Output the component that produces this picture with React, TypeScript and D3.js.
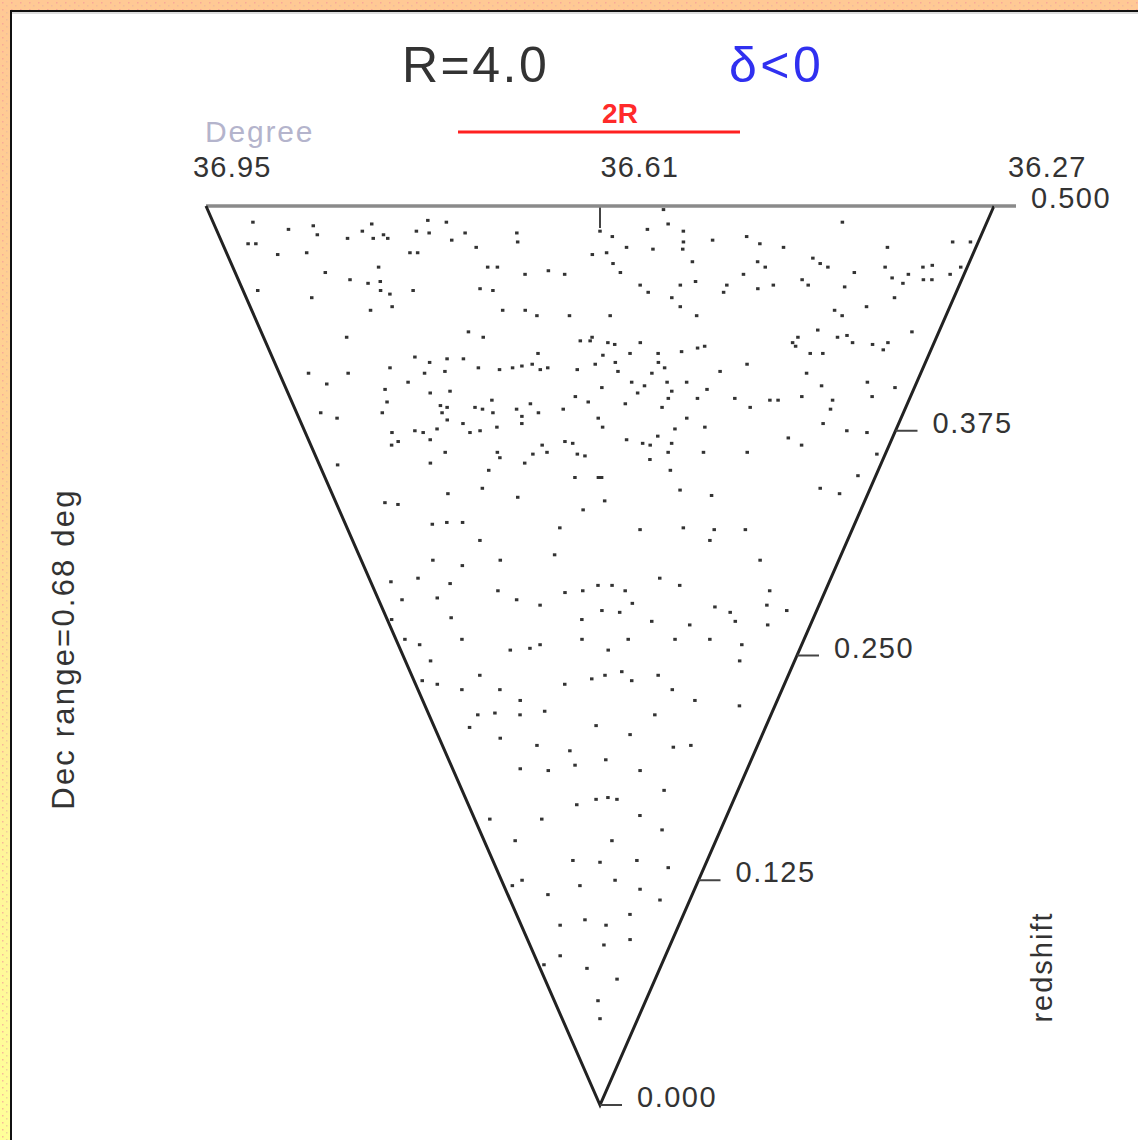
import React from "react";
import * as d3 from "d3";

// Survey slice limits
const raTicks = [36.95, 36.61, 36.27];
const redshiftTicks = [0, 0.125, 0.25, 0.375, 0.5];
const raMin = 36.27;
const raMax = 36.95;
const zMax = 0.5;

// Galaxies as [RA (deg), redshift], far side of the slice, east half
const galaxiesFarEast: [number, number][] = [
  [36.915,0.491],[36.886,0.487],[36.863,0.489],[36.862,0.484],[36.927,0.479],[36.920,0.479],[36.904,0.473],[36.877,0.474],
  [36.836,0.482],[36.821,0.486],[36.813,0.482],[36.811,0.490],[36.803,0.484],[36.800,0.482],[36.773,0.486],[36.762,0.485],
  [36.761,0.492],[36.745,0.491],[36.743,0.481],[36.730,0.485],[36.783,0.474],[36.776,0.474],[36.722,0.477],[36.684,0.485],
  [36.684,0.480],[36.714,0.466],[36.705,0.466],[36.658,0.464],[36.680,0.462],[36.643,0.462],[36.617,0.473],[36.866,0.463],
  [36.845,0.459],[36.815,0.466],[36.829,0.457],[36.817,0.458],[36.819,0.453],[36.811,0.451],[36.788,0.453],[36.724,0.454],
  [36.712,0.453],[36.936,0.453],[36.887,0.449],[36.834,0.442],[36.812,0.444],[36.705,0.442],[36.683,0.442],[36.672,0.439],
  [36.640,0.439],[36.866,0.427],[36.742,0.430],[36.728,0.427],[36.630,0.425],[36.620,0.425],[36.674,0.418],[36.802,0.416],
  [36.788,0.413],[36.769,0.415],[36.774,0.408],[36.752,0.415],[36.831,0.410],[36.796,0.407],[36.816,0.402],[36.738,0.410],
  [36.716,0.409],[36.702,0.410],[36.692,0.411],[36.681,0.412],[36.673,0.409],[36.665,0.410],[36.634,0.409],[36.615,0.412],
  [36.919,0.407],[36.877,0.407],[36.904,0.401],[36.843,0.398],[36.795,0.396],[36.773,0.397],[36.845,0.391],[36.854,0.385],
  [36.787,0.389],[36.780,0.388],[36.787,0.385],[36.783,0.381],[36.749,0.388],[36.741,0.387],[36.729,0.392],[36.730,0.385],
  [36.703,0.387],[36.698,0.383],[36.699,0.379],[36.687,0.390],[36.679,0.385],[36.651,0.387],[36.637,0.394],[36.623,0.391],
  [36.923,0.385],[36.907,0.382],[36.850,0.374],[36.855,0.367],[36.846,0.369],[36.823,0.375],[36.814,0.374],[36.808,0.370],
  [36.797,0.376],[36.766,0.379],[36.760,0.374],[36.748,0.375],[36.728,0.377],[36.794,0.363],[36.815,0.357],[36.732,0.363],
  [36.730,0.360],[36.690,0.362],[36.678,0.367],[36.673,0.363],[36.651,0.369],[36.642,0.368],[36.637,0.362],[36.628,0.361],
  [36.701,0.357],[36.928,0.356],[36.746,0.353],[36.641,0.349],[36.758,0.343],[36.803,0.340],[36.612,0.349],
];

// Far side of the slice, west half
const galaxiesFarWest: [number, number][] = [
  [36.610,0.486],[36.599,0.483],[36.555,0.498],[36.568,0.487],[36.550,0.490],[36.536,0.486],[36.535,0.480],[36.535,0.476],
  [36.509,0.481],[36.479,0.483],[36.466,0.479],[36.444,0.477],[36.397,0.491],[36.293,0.480],[36.277,0.480],[36.350,0.477],
  [36.604,0.474],[36.586,0.477],[36.562,0.476],[36.598,0.468],[36.591,0.463],[36.525,0.469],[36.465,0.469],[36.457,0.466],
  [36.415,0.471],[36.407,0.468],[36.399,0.466],[36.373,0.463],[36.346,0.466],[36.336,0.460],[36.324,0.457],[36.322,0.462],
  [36.311,0.466],[36.303,0.467],[36.306,0.459],[36.298,0.459],[36.283,0.462],[36.276,0.466],[36.572,0.456],[36.564,0.452],
  [36.534,0.456],[36.520,0.458],[36.490,0.456],[36.492,0.452],[36.476,0.462],[36.460,0.454],[36.446,0.456],[36.420,0.459],
  [36.413,0.456],[36.378,0.455],[36.327,0.449],[36.541,0.449],[36.532,0.444],[36.515,0.439],[36.600,0.439],[36.381,0.442],
  [36.372,0.439],[36.351,0.444],[36.297,0.430],[36.392,0.431],[36.370,0.427],[36.361,0.428],[36.353,0.424],[36.332,0.423],
  [36.319,0.420],[36.317,0.424],[36.414,0.424],[36.410,0.427],[36.410,0.422],[36.393,0.418],[36.380,0.418],[36.618,0.427],
  [36.602,0.424],[36.595,0.423],[36.569,0.424],[36.607,0.417],[36.579,0.418],[36.550,0.418],[36.526,0.419],[36.510,0.421],
  [36.503,0.422],[36.594,0.413],[36.549,0.413],[36.542,0.410],[36.591,0.408],[36.555,0.407],[36.483,0.408],[36.456,0.412],
  [36.391,0.407],[36.576,0.402],[36.608,0.399],[36.562,0.400],[36.538,0.402],[36.517,0.402],[36.569,0.396],[36.532,0.397],
  [36.494,0.398],[36.582,0.390],[36.535,0.393],[36.541,0.388],[36.503,0.393],[36.462,0.393],[36.443,0.388],[36.423,0.392],
  [36.414,0.392],[36.389,0.394],[36.371,0.400],[36.354,0.392],[36.353,0.387],[36.323,0.402],[36.312,0.394],[36.291,0.399],
  [36.612,0.382],[36.607,0.377],[36.524,0.376],[36.512,0.382],[36.490,0.377],[36.579,0.370],[36.560,0.368],[36.551,0.367],
  [36.543,0.372],[36.526,0.368],[36.356,0.379],[36.326,0.375],[36.302,0.374],[36.391,0.371],[36.373,0.367],[36.550,0.359],
  [36.529,0.363],[36.487,0.363],[36.435,0.363],[36.524,0.353],[36.280,0.362],[36.608,0.349],[36.509,0.342],[36.468,0.339],
  [36.333,0.343],[36.306,0.340],[36.292,0.350],
];

// Nearer galaxies, z below about 0.34
const galaxiesNear: [number, number][] = [
  [36.887,0.335],[36.871,0.334],[36.834,0.323],[36.814,0.324],[36.793,0.324],[36.715,0.338],[36.664,0.321],[36.632,0.331],
  [36.604,0.336],[36.498,0.321],[36.456,0.320],[36.414,0.320],[36.848,0.303],[36.808,0.300],[36.920,0.291],[36.878,0.293],
  [36.833,0.290],[36.764,0.286],[36.738,0.281],[36.703,0.278],[36.663,0.285],[36.636,0.286],[36.613,0.289],[36.592,0.289],
  [36.572,0.286],[36.560,0.279],[36.607,0.275],[36.579,0.274],[36.522,0.293],[36.491,0.289],[36.431,0.277],[36.405,0.274],
  [36.351,0.278],[36.317,0.275],[36.914,0.281],[36.859,0.282],[36.847,0.271],[36.943,0.270],[36.935,0.259],[36.914,0.256],
  [36.906,0.247],[36.840,0.259],[36.763,0.253],[36.729,0.254],[36.711,0.256],[36.639,0.270],[36.640,0.259],[36.596,0.253],
  [36.563,0.259],[36.527,0.269],[36.485,0.259],[36.465,0.267],[36.427,0.259],[36.366,0.247],[36.393,0.269],[36.371,0.256],
  [36.339,0.267],[36.935,0.236],[36.910,0.234],[36.868,0.231],[36.827,0.239],[36.797,0.231],[36.763,0.225],[36.719,0.219],
  [36.675,0.234],[36.625,0.237],[36.601,0.239],[36.571,0.241],[36.552,0.236],[36.505,0.239],[36.475,0.231],[36.428,0.225],
  [36.339,0.222],[36.501,0.217],[36.853,0.217],[36.818,0.218],[36.769,0.217],[36.878,0.210],[36.821,0.204],[36.746,0.200],
  [36.676,0.197],[36.618,0.211],[36.547,0.206],[36.451,0.199],[36.414,0.200],[36.794,0.187],[36.730,0.186],[36.667,0.189],
  [36.597,0.192],[36.517,0.186],[36.452,0.175],[36.620,0.170],[36.590,0.171],[36.567,0.170],[36.670,0.167],[36.768,0.159],
  [36.909,0.159],[36.859,0.147],[36.503,0.161],[36.435,0.153],[36.575,0.147],[36.696,0.136],[36.610,0.135],[36.493,0.136],
  [36.920,0.122],[36.879,0.125],[36.802,0.117],[36.681,0.122],[36.558,0.125],[36.466,0.120],[36.383,0.114],[36.387,0.132],
  [36.673,0.103],[36.584,0.100],[36.488,0.106],[36.782,0.100],[36.469,0.092],[36.591,0.089],[36.817,0.083],[36.920,0.078],
  [36.684,0.076],[36.505,0.070],[36.625,0.058],[36.610,0.048],[36.556,0.320],[36.459,0.314],[36.382,0.303],[36.354,0.286],
  [36.775,0.314],[36.752,0.303],[36.674,0.306],
];

const galaxies = [...galaxiesFarEast, ...galaxiesFarWest, ...galaxiesNear];

export default function App() {
  const W = 1138;
  const H = 1140;
  const cx = 600;

  // redshift runs down the wedge; the slice widens linearly with redshift
  const yScale = d3.scaleLinear().domain([0, zMax]).range([1105, 206]);
  const halfWidth = d3.scaleLinear().domain([0, zMax]).range([0, 394]);
  const raFrac = d3.scaleLinear().domain([raMax, raMin]).range([-1, 1]);
  const raLabelX = d3.scaleLinear().domain([raMax, raMin]).range([193, 1008]);
  const px = (ra: number, z: number) => cx + raFrac(ra) * halfWidth(z);

  const edge = d3.line<[number, number]>().x((d) => px(d[0], d[1])).y((d) => yScale(d[1]));
  const sides: [number, number][] = [[raMax, zMax], [36.61, 0], [raMin, zMax]];
  const topEdge: [number, number][] = [[raMax, zMax], [raMin, zMax]];

  const font = "'Liberation Sans', Arial, Helvetica, sans-serif";
  const tickLen = 22;

  return (
    <svg width={W} height={H} style={{ position: "absolute", left: 0, top: 0 }} fontFamily={font}>
      <defs>
        <linearGradient id="frameFill" x1="0" y1="0" x2="0" y2="1">
          <stop offset="0" stopColor="#ffc995" />
          <stop offset="0.4" stopColor="#ffd393" />
          <stop offset="0.75" stopColor="#fff59a" />
          <stop offset="1" stopColor="#ffff99" />
        </linearGradient>
        <pattern id="speckle" width="9" height="7" patternUnits="userSpaceOnUse">
          <rect x="2" y="2" width="1.5" height="1.5" fill="#f59a9a" opacity="0.7" />
          <rect x="6" y="5" width="1.5" height="1.5" fill="#e6b2a0" opacity="0.6" />
        </pattern>
      </defs>
      <rect x={0} y={0} width={W} height={H} fill="url(#frameFill)" />
      <rect x={0} y={0} width={W} height={H} fill="url(#speckle)" />
      <rect x={11} y={11} width={W - 11} height={H - 11} fill="#ffffff" />
      <line x1={10} y1={11} x2={W} y2={11} stroke="#111" strokeWidth={2} />
      <line x1={11} y1={10} x2={11} y2={H} stroke="#111" strokeWidth={2} />
      <line x1={12} y1={13} x2={W} y2={13} stroke="#bbb" strokeWidth={1} />

      {/* Title block */}
      <text x={402} y={82} fontSize={50} fill="#333" letterSpacing={2.5}>R=4.0</text>
      <text x={729} y={82} fontSize={50} fill="#3030f0" letterSpacing={3.5}>δ&lt;0</text>
      <text x={620} y={123} fontSize={28} fontWeight="bold" fill="#ff2a2a" textAnchor="middle">2R</text>
      <line x1={458} y1={132} x2={740} y2={132} stroke="#ff2020" strokeWidth={3} />
      <text x={205} y={142} fontSize={30} fill="#b4b4cc" letterSpacing={1.8}>Degree</text>

      {/* RA labels along the far edge */}
      {raTicks.map((ra) => (
        <text key={ra} x={raLabelX(ra)} y={177} fontSize={29} fill="#333" letterSpacing={1.2}>
          {ra.toFixed(2)}
        </text>
      ))}
      <line x1={px(36.61, zMax)} y1={yScale(zMax)} x2={px(36.61, zMax)} y2={yScale(zMax) + tickLen}
        stroke="#444" strokeWidth={2} />

      {/* Wedge outline */}
      <path d={edge(topEdge) ?? ""} stroke="#8a8a8a" strokeWidth={3.5} fill="none" />
      <path d={edge(sides) ?? ""} stroke="#222" strokeWidth={3} fill="none" strokeLinejoin="miter" />

      {/* Redshift axis on the right edge */}
      {redshiftTicks.map((z) => {
        const x0 = px(raMin, z);
        const y0 = yScale(z);
        return (
          <g key={z}>
            <line x1={x0} y1={y0} x2={x0 + tickLen} y2={y0} stroke={z === zMax ? "#8a8a8a" : "#444"}
              strokeWidth={z === zMax ? 3.5 : 2} />
            <text x={x0 + 37} y={y0 + 2} fontSize={29} fill="#333" letterSpacing={1.5}>{z.toFixed(3)}</text>
          </g>
        );
      })}

      {/* Galaxies */}
      <g fill="#333">
        {galaxies.map(([ra, z], i) => (
          <rect key={i} x={px(ra, z) - 1.75} y={yScale(z) - 1.5} width={3.5} height={3} />
        ))}
      </g>

      {/* Axis titles */}
      <text transform="translate(74,649) rotate(-90)" fontSize={31} fill="#333" textAnchor="middle" letterSpacing={2.2}>
        Dec range=0.68 deg
      </text>
      <text transform="translate(1052,967) rotate(-90)" fontSize={29} fill="#333" textAnchor="middle" letterSpacing={2}>
        redshift
      </text>
    </svg>
  );
}
